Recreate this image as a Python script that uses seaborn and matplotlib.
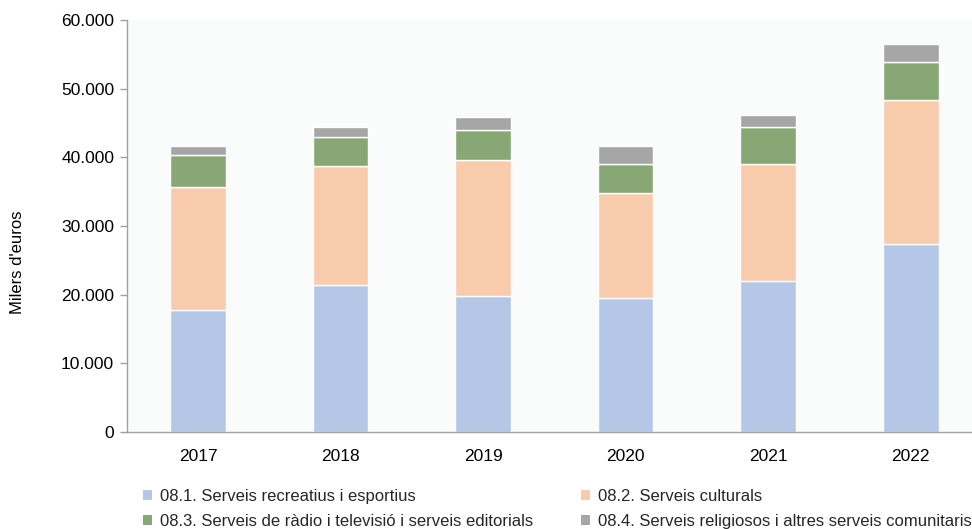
import matplotlib
matplotlib.use("Agg")
import matplotlib.pyplot as plt
import seaborn as sns
import numpy as np
import pandas as pd
from matplotlib.ticker import FuncFormatter, FixedLocator
from matplotlib.patches import Patch

years = ["2017", "2018", "2019", "2020", "2021", "2022"]
s1 = [17800, 21400, 19750, 19500, 22000, 27450]
s2 = [17900, 17350, 19800, 15350, 17000, 20850]
s3 = [4650, 4250, 4400, 4150, 5450, 5550]
s4 = [1350, 1450, 1900, 2700, 1650, 2650]
labels = ["08.1. Serveis recreatius i esportius",
          "08.2. Serveis culturals",
          "08.3. Serveis de ràdio i televisió i serveis editorials",
          "08.4. Serveis religiosos i altres serveis comunitaris"]
colors = ["#B4C7E7", "#F8CBAD", "#87A874", "#A6A6A6"]
yticks = [0, 10000, 20000, 30000, 40000, 50000, 60000]

sns.set_theme(style="white")
plt.rcParams['font.family'] = ['Liberation Sans', 'DejaVu Sans']

fig = plt.figure(figsize=(9.72, 5.29), dpi=100)
W, H = 972, 529
left, right, top, bottom = 126.7, 982, 20, 432
ax = fig.add_axes([left / W, 1 - bottom / H, (right - left) / W, (bottom - top) / H])
ax.set_facecolor("#FAFBFB")

series = [s1, s2, s3, s4]
cum = np.zeros(len(years))
for vals, col in zip(series, colors):
    sns.barplot(x=years, y=vals, bottom=cum, color=col, width=0.39,
                edgecolor="white", linewidth=1.0, ax=ax, saturation=1)
    cum = cum + np.array(vals)

ax.set_xlim(-0.5, 5.5)
ax.set_ylim(0, 60000)
ax.yaxis.set_major_locator(FixedLocator(yticks))
ax.yaxis.set_major_formatter(FuncFormatter(lambda v, p: f"{int(v):,}".replace(",", ".")))
for s in ["top", "right"]:
    ax.spines[s].set_visible(False)
for s in ["left", "bottom"]:
    ax.spines[s].set_color("#A0A0A0")
    ax.spines[s].set_linewidth(1.0)

ax.set_xticks(range(len(years)))
ax.set_xticklabels(years)
ax.set_xticks(np.arange(-0.5, 6.0, 1.0), minor=True)
ax.tick_params(axis="x", which="major", length=0, pad=12, labelsize=12.5, colors="#000000")
ax.tick_params(axis="x", which="minor", length=5, width=1, color="#A0A0A0", direction="out")
ax.tick_params(axis="y", which="major", length=5, width=1, color="#A0A0A0", direction="out",
               labelsize=12.5, pad=4, left=True)
for lab in ax.get_xticklabels() + ax.get_yticklabels():
    lab.set_color("#000000")
ax.set_xlabel("")
ax.set_ylabel("")
fig.text(18 / W, 1 - 262 / H, "Milers d'euros", rotation=90, va="center", ha="center",
         fontsize=12, color="#000000")

order = [0, 2, 1, 3]
handles = [Patch(facecolor=colors[i], edgecolor="none") for i in order]
leg = fig.legend(handles, [labels[i] for i in order], ncol=2, loc="upper left",
                 bbox_to_anchor=(128 / W, 1 - 474 / H), frameon=False,
                 handlelength=0.55, handleheight=0.55, handletextpad=0.45,
                 columnspacing=2.9, labelspacing=0.62,
                 prop={"family": ["Liberation Sans Narrow", "Liberation Sans"], "size": 12})

fig.savefig("out.png", dpi=100)
